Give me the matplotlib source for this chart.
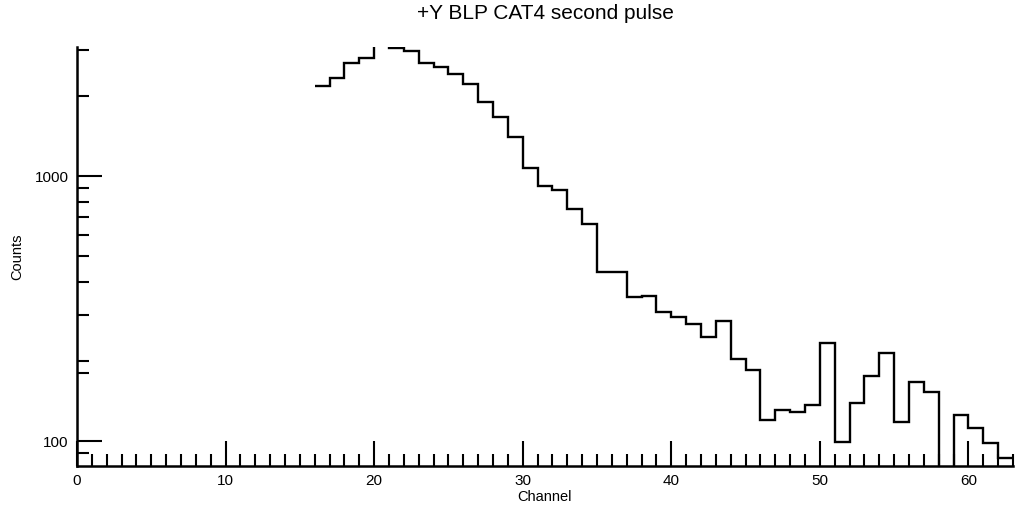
import numpy as np
import matplotlib
matplotlib.use("Agg")
import matplotlib.pyplot as plt
from matplotlib.ticker import FixedLocator, NullFormatter

plt.rcParams["font.family"] = ["Liberation Sans", "DejaVu Sans"]

# histogram bins: channels 16..62, edges 16..63
channel_edges = np.arange(16, 64)
counts = [
    2190, 2340, 2670, 2800, 3600, 3040, 2970, 2670, 2580, 2420,   # 16-25
    2220, 1910, 1675, 1410, 1075, 917, 888, 750, 661, 433,        # 26-35
    436, 350, 353, 307, 294, 276, 246, 284, 204, 185,             # 36-45
    120, 131, 129, 137, 235, 99, 139, 176, 215, 118,              # 46-55
    167, 153, 1, 125, 112, 98.6, 86,                              # 56-62
]

title = "+Y BLP CAT4 second pulse"
x_major = [0, 10, 20, 30, 40, 50, 60]
y_major = [100, 1000]
y_minor = [90, 180, 200, 300, 400, 500, 600, 700, 800, 900, 2000, 3000]

fig = plt.figure(figsize=(10.16, 5.13), dpi=100)
ax = fig.add_axes([77 / 1016, 1 - 466 / 513, 936 / 1016, 419 / 513])

ax.stairs(counts, channel_edges, baseline=None, color="black", linewidth=1.7)

ax.set_yscale("log")
ax.set_xlim(0, 63)
ax.set_ylim(80.5, 3070)

ax.xaxis.set_major_locator(FixedLocator(x_major))
ax.xaxis.set_minor_locator(FixedLocator(range(0, 64)))
ax.yaxis.set_major_locator(FixedLocator(y_major))
ax.yaxis.set_minor_locator(FixedLocator(y_minor))
ax.set_yticklabels(["100", "1000"])
ax.yaxis.set_minor_formatter(NullFormatter())

for side in ("top", "right"):
    ax.spines[side].set_visible(False)
for side in ("left", "bottom"):
    ax.spines[side].set_linewidth(1.8)

ax.tick_params(which="both", direction="in", width=1.5, labelsize=11, pad=6)
ax.tick_params(which="major", length=18)
ax.tick_params(which="minor", length=8.6)

ax.set_title(title, fontsize=15, pad=20)
ax.set_xlabel("Channel", fontsize=10.5, labelpad=1)
ax.set_ylabel("Counts", fontsize=10.5)
ax.yaxis.set_label_coords(-0.056, 0.5)

fig.savefig("out.png", dpi=100)
